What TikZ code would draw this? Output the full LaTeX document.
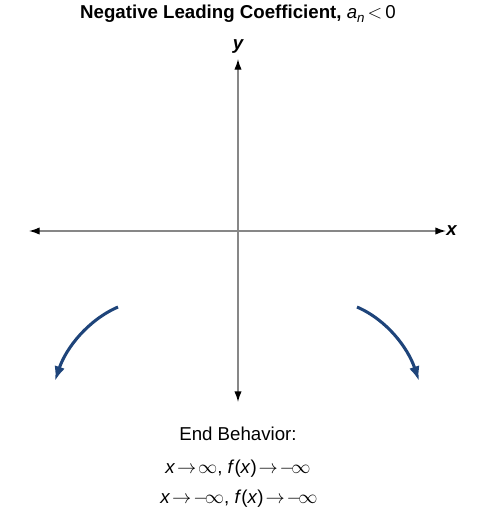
\documentclass[tikz,border=0pt]{standalone}
\usepackage{fontspec}
\setmainfont{Liberation Sans}
\usetikzlibrary{arrows.meta}
\definecolor{axisgray}{RGB}{135,135,135}
\definecolor{endblue}{RGB}{30,68,122}
\tikzset{
  axisline/.style={draw=axisgray, line width=1pt, {Latex[length=8pt,width=5.5pt,color=black]}-{Latex[length=8pt,width=5.5pt,color=black]}},
  endarrow/.style={draw=endblue, line width=2.3pt, -{Latex[length=11pt,width=8pt]}},
  lbl/.style={inner sep=0pt, font=\fontsize{14}{16}\selectfont},
}
\newcommand{\ix}{\textit{x}}
\newcommand{\subn}{\raisebox{-0.35ex}{\fontsize{10}{11}\selectfont\textit{n}}}
\newcommand{\ra}{\hspace{0.1em}$\rightarrow$\hspace{0.1em}}
\newcommand{\ninf}{$-\!\infty$}
\begin{document}
\begin{tikzpicture}[x=0.75pt,y=-0.75pt]
\useasboundingbox (0,0) rectangle (487,515);
% title
\node[lbl] (title) at (238,14) {\textbf{Negative Leading Coefficient,} \textit{a}\subn\,$<$\,0};
% axes
\coordinate (xl) at (29,231);
\coordinate (xr) at (446,231);
\coordinate (yt) at (238,59);
\coordinate (yb) at (238,402);
\draw[axisline] (xl) -- (xr);
\draw[axisline] (yb) -- (yt);
\node[lbl, anchor=west, font=\fontsize{14}{16}\selectfont\bfseries\itshape] (xlab) at (446,231) {x};
\node[lbl, font=\fontsize{14}{16}\selectfont\bfseries\itshape] (ylab) at (238,47) {y};
% end behavior arrows
\coordinate (ls) at (118,307);
\coordinate (le) at (55,381);
\coordinate (rs) at (357,307);
\coordinate (re) at (419,381);
\draw[endarrow] (ls) .. controls (88,320) and (66,348) .. (le);
\draw[endarrow] (rs) .. controls (387,320) and (408,348) .. (re);
% text
\node[lbl] (eb) at (238,434) {End Behavior:};
\node[lbl] (l1) at (238,469) {\ix\ra$\infty$, \textit{f}(\ix)\ra\ninf};
\node[lbl] (l2) at (239,499) {\ix\ra\ninf, \textit{f}(\ix)\ra\ninf};
\end{tikzpicture}
\end{document}
